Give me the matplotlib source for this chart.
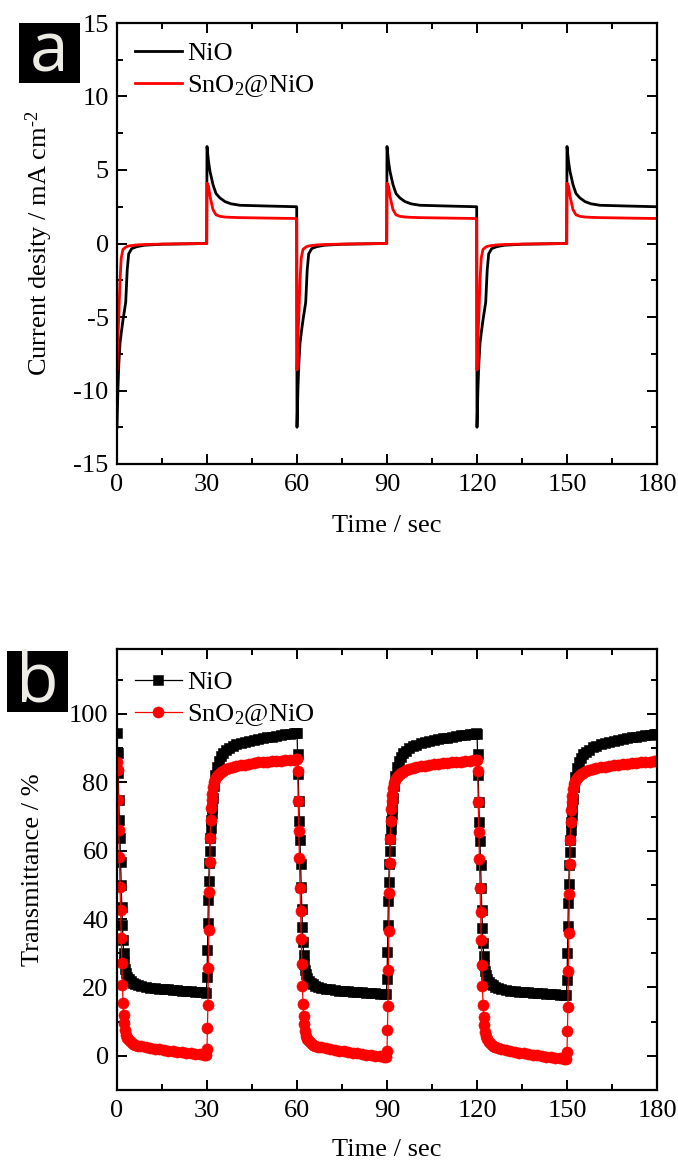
import numpy as np
import matplotlib
matplotlib.use('Agg')
from matplotlib import pyplot as plt
from matplotlib.patches import Rectangle
from matplotlib.ticker import MultipleLocator

plt.rcParams['font.family'] = ['Liberation Serif', 'DejaVu Serif']
plt.rcParams['mathtext.fontset'] = 'custom'
plt.rcParams['mathtext.rm'] = 'Liberation Serif'
plt.rcParams['mathtext.it'] = 'Liberation Serif:italic'
plt.rcParams['axes.unicode_minus'] = False

# ---- (a) current density, one 60 s cycle grid (s, relative) ----
ta = [0.0, 0.3, 0.6, 1.0, 1.4, 2.0, 2.9, 3.4, 3.9, 4.9, 6.5, 9.0, 15.0, 29.9,
      30.0, 30.5, 31.0, 32.0, 33.0, 34.3, 36.0, 38.0, 41.0, 50.0, 59.9]
nio_j1 = [-12.5, -10.0, -8.2, -6.8, -6.1, -5.2, -4.0, -1.8, -0.7, -0.35, -0.22, -0.12, -0.05, 0.0,
          6.6, 5.6, 4.9, 4.0, 3.4, 3.1, 2.85, 2.7, 2.6, 2.55, 2.5]
nio_j2 = [-12.5, -10.0, -8.2, -6.8, -6.1, -5.2, -4.0, -1.8, -0.7, -0.35, -0.22, -0.12, -0.05, 0.0,
          6.6, 5.6, 4.9, 4.0, 3.4, 3.1, 2.85, 2.7, 2.6, 2.55, 2.5]
nio_j3 = [-12.5, -10.0, -8.2, -6.8, -6.1, -5.2, -4.0, -1.8, -0.7, -0.35, -0.22, -0.12, -0.05, 0.0,
          6.6, 5.6, 4.9, 4.0, 3.4, 3.1, 2.85, 2.7, 2.6, 2.55, 2.5]
sno_j1 = [-8.6, -6.5, -5.0, -2.5, -1.0, -0.4, -0.25, -0.2, -0.17, -0.14, -0.1, -0.07, -0.04, 0.0,
          4.1, 3.9, 3.2, 2.3, 1.95, 1.85, 1.8, 1.78, 1.76, 1.73, 1.7]
sno_j2 = [-8.6, -6.5, -5.0, -2.5, -1.0, -0.4, -0.25, -0.2, -0.17, -0.14, -0.1, -0.07, -0.04, 0.0,
          4.1, 3.9, 3.2, 2.3, 1.95, 1.85, 1.8, 1.78, 1.76, 1.73, 1.7]
sno_j3 = [-8.6, -6.5, -5.0, -2.5, -1.0, -0.4, -0.25, -0.2, -0.17, -0.14, -0.1, -0.07, -0.04, 0.0,
          4.1, 3.9, 3.2, 2.3, 1.95, 1.85, 1.8, 1.78, 1.76, 1.73, 1.7]

# ---- (b) transmittance, coloring (0-30 s) and bleaching (30-60 s) half cycles ----
tc = [0.0, 0.2, 0.4, 0.6, 0.8, 1.0, 1.2, 1.4, 1.6, 1.8, 2.0, 2.2, 2.4, 2.7, 3.0, 3.4, 3.9, 4.5, 5.2,
      6.0, 7.0, 8.0, 9.5, 11.0, 12.5, 14.0, 15.5, 17.0, 18.5, 20.0, 21.5, 23.0, 24.5, 26.0, 27.5, 29.0, 29.8]
tb = [0.0, 0.15, 0.3, 0.45, 0.6, 0.75, 0.9, 1.05, 1.2, 1.35, 1.5, 1.7, 2.0, 2.4, 2.8, 3.3, 3.9, 4.6, 5.4,
      6.3, 7.3, 8.5, 9.8, 11.2, 12.6, 14.0, 15.5, 17.0, 18.5, 20.0, 21.5, 23.0, 24.5, 26.0, 27.5, 29.0, 29.8]

nio_c1 = [94.4, 88.6, 82.8, 74.8, 69.0, 63.7, 56.7, 50.0, 43.5, 38.3, 33.9, 30.1, 27.5, 25.5, 24.3, 23.2, 22.4, 21.8, 21.4,
          21.0, 20.7, 20.4, 20.1, 19.9, 19.7, 19.6, 19.5, 19.4, 19.3, 19.2, 19.1, 19.0, 18.9, 18.8, 18.7, 18.6, 18.5]
nio_b1 = [23.1, 30.9, 38.8, 45.6, 51.0, 56.4, 60.0, 63.7, 66.5, 69.0, 71.0, 72.5, 75.5, 79.0, 82.0, 84.5, 86.3, 87.6, 88.6,
          89.4, 90.0, 90.6, 91.1, 91.5, 91.9, 92.2, 92.5, 92.8, 93.0, 93.2, 93.4, 93.6, 93.8, 94.0, 94.1, 94.3, 94.4]
nio_c2 = [94.4, 88.4, 82.5, 74.5, 68.6, 63.2, 56.2, 49.5, 43.0, 37.8, 33.4, 29.6, 27.0, 25.0, 23.8, 22.7, 21.9, 21.3, 20.9,
          20.5, 20.2, 19.9, 19.6, 19.4, 19.2, 19.1, 19.0, 18.9, 18.8, 18.7, 18.6, 18.5, 18.4, 18.3, 18.2, 18.1, 18.0]
nio_b2 = [22.6, 30.5, 38.4, 45.2, 50.7, 56.1, 59.8, 63.5, 66.3, 68.8, 70.8, 72.4, 75.4, 78.9, 81.9, 84.4, 86.2, 87.5, 88.5,
          89.3, 89.9, 90.5, 91.0, 91.4, 91.8, 92.1, 92.4, 92.7, 92.9, 93.1, 93.3, 93.5, 93.7, 93.9, 94.0, 94.2, 94.3]
nio_c3 = [94.2, 88.2, 82.2, 74.2, 68.3, 62.9, 55.9, 49.2, 42.7, 37.5, 33.1, 29.3, 26.7, 24.7, 23.5, 22.4, 21.6, 21.0, 20.6,
          20.2, 19.9, 19.6, 19.3, 19.1, 18.9, 18.8, 18.7, 18.6, 18.5, 18.4, 18.3, 18.2, 18.1, 18.0, 17.9, 17.8, 17.7]
nio_b3 = [22.2, 30.1, 38.0, 44.8, 50.3, 55.7, 59.5, 63.2, 66.0, 68.5, 70.5, 72.1, 75.1, 78.6, 81.6, 84.1, 85.9, 87.2, 88.2,
          89.0, 89.6, 90.2, 90.7, 91.2, 91.6, 91.9, 92.2, 92.5, 92.8, 93.0, 93.2, 93.4, 93.6, 93.8, 93.9, 94.1, 94.2]

sno_c1 = [86.0, 83.6, 74.8, 66.1, 58.2, 49.5, 42.7, 34.5, 27.2, 20.8, 15.4, 11.9, 9.5, 7.6, 6.2, 5.3, 4.6, 4.0, 3.6,
          3.3, 3.0, 2.8, 2.5, 2.3, 2.1, 1.9, 1.7, 1.5, 1.3, 1.2, 1.0, 0.8, 0.7, 0.5, 0.4, 0.2, 0.1]
sno_b1 = [2.0, 8.0, 15.0, 25.6, 36.8, 48.0, 56.8, 63.7, 69.0, 72.5, 74.8, 76.6, 78.7, 80.0, 81.0, 81.9, 82.5, 83.0, 83.4,
          83.8, 84.2, 84.5, 84.8, 85.0, 85.2, 85.4, 85.6, 85.8, 85.9, 86.0, 86.1, 86.2, 86.3, 86.4, 86.5, 86.6, 86.7]
sno_c2 = [86.7, 83.4, 74.5, 65.8, 57.9, 49.2, 42.4, 34.2, 26.9, 20.5, 15.1, 11.6, 9.2, 7.3, 5.9, 5.0, 4.3, 3.7, 3.3,
          3.0, 2.7, 2.5, 2.2, 2.0, 1.7, 1.5, 1.3, 1.1, 0.9, 0.7, 0.5, 0.3, 0.2, 0.0, -0.1, -0.3, -0.4]
sno_b2 = [1.5, 7.6, 14.6, 25.2, 36.4, 47.6, 56.5, 63.4, 68.7, 72.2, 74.5, 76.3, 78.4, 79.7, 80.7, 81.6, 82.2, 82.7, 83.1,
          83.5, 83.9, 84.2, 84.5, 84.7, 84.9, 85.1, 85.3, 85.5, 85.6, 85.7, 85.8, 85.9, 86.0, 86.1, 86.2, 86.4, 86.5]
sno_c3 = [86.5, 83.2, 74.3, 65.6, 57.7, 49.0, 42.2, 34.0, 26.7, 20.3, 14.9, 11.4, 9.0, 7.1, 5.7, 4.8, 4.0, 3.4, 3.0,
          2.6, 2.3, 2.0, 1.7, 1.4, 1.1, 0.9, 0.7, 0.5, 0.3, 0.1, -0.1, -0.3, -0.4, -0.6, -0.7, -0.9, -1.0]
sno_b3 = [1.0, 7.2, 14.2, 24.8, 36.0, 47.2, 56.1, 63.0, 68.4, 71.9, 74.2, 76.0, 78.1, 79.4, 80.4, 81.3, 81.9, 82.4, 82.8,
          83.2, 83.6, 83.9, 84.2, 84.4, 84.6, 84.8, 85.0, 85.2, 85.3, 85.5, 85.6, 85.7, 85.8, 85.9, 86.0, 86.1, 86.2]

labels = ['NiO', 'SnO$_2$@NiO']

# build full 180 s series
t_a = np.concatenate([np.array(ta) + 60 * k for k in range(3)])
nio_j = np.concatenate([nio_j1, nio_j2, nio_j3])
sno_j = np.concatenate([sno_j1, sno_j2, sno_j3])

t_b = np.concatenate([np.concatenate([np.array(tc) + 60 * k, np.array(tb) + 60 * k + 30]) for k in range(3)])
nio_T = np.concatenate([nio_c1, nio_b1, nio_c2, nio_b2, nio_c3, nio_b3])
sno_T = np.concatenate([sno_c1, sno_b1, sno_c2, sno_b2, sno_c3, sno_b3])

W, H = 678, 1166
fig = plt.figure(figsize=(W / 100, H / 100), dpi=100)
ax1 = fig.add_axes([117 / W, 1 - 464 / H, 540 / W, 441 / H])
ax2 = fig.add_axes([117 / W, 1 - 1090 / H, 540 / W, 441 / H])


def style(ax):
    for s in ax.spines.values():
        s.set_linewidth(1.6)
    ax.tick_params(which='both', direction='in', top=True, right=True, width=1.4, labelsize=19)
    ax.tick_params(which='major', length=7)
    ax.tick_params(which='minor', length=4)
    ax.tick_params(axis='x', pad=7)
    ax.tick_params(axis='y', pad=6)
    ax.xaxis.set_major_locator(MultipleLocator(30))
    ax.xaxis.set_minor_locator(MultipleLocator(15))
    ax.set_xlim(0, 180)


# (a)
ax1.plot(t_a, nio_j, color='k', lw=2, label=labels[0])
ax1.plot(t_a, sno_j, color='r', lw=2, label=labels[1])
style(ax1)
ax1.set_ylim(-15, 15)
ax1.yaxis.set_major_locator(MultipleLocator(5))
ax1.yaxis.set_minor_locator(MultipleLocator(2.5))
ax1.set_xlabel('Time / sec', fontsize=19)
ax1.set_ylabel(r'Current desity / mA cm$^{\text{-2}}$', fontsize=19)
ax1.xaxis.set_label_coords(0.5, -0.115)
ax1.yaxis.set_label_coords(-0.115, 0.5)
ax1.legend(loc='upper left', bbox_to_anchor=(-0.01, 1.012), frameon=False, fontsize=19,
           handlelength=1.75, handletextpad=0.2, labelspacing=0.3, borderaxespad=0.5)

# (b)
ax2.plot(t_b, nio_T, '-s', color='k', lw=0.9, ms=7, mew=0.4, label=labels[0])
ax2.plot(t_b, sno_T, '-o', color='r', lw=0.9, ms=8, mew=0.4, label=labels[1])
style(ax2)
ax2.set_ylim(-10, 119)
ax2.yaxis.set_major_locator(MultipleLocator(20))
ax2.yaxis.set_minor_locator(MultipleLocator(10))
ax2.set_xlabel('Time / sec', fontsize=19)
ax2.set_ylabel('Transmittance / %', fontsize=19)
ax2.xaxis.set_label_coords(0.5, -0.11)
ax2.yaxis.set_label_coords(-0.135, 0.5)
ax2.legend(loc='upper left', bbox_to_anchor=(-0.01, 1.005), frameon=False, fontsize=19, numpoints=1,
           handlelength=1.75, handletextpad=0.2, labelspacing=0.3, borderaxespad=0.5)

# panel letters
for (x0, y0, x1, y1), letter in [((19, 23, 80, 83), 'a'), ((7, 651, 68, 712), 'b')]:
    fig.add_artist(Rectangle((x0 / W, 1 - y1 / H), (x1 - x0) / W, (y1 - y0) / H,
                             transform=fig.transFigure, facecolor='black', edgecolor='none'))
    fig.text((x0 + x1) / 2 / W, 1 - (y1 - 11) / H, letter, color='#ecebe4', fontsize=50,
             family=['Open Sans', 'DejaVu Sans'], ha='center', va='baseline')

fig.savefig('out.png', dpi=100)
